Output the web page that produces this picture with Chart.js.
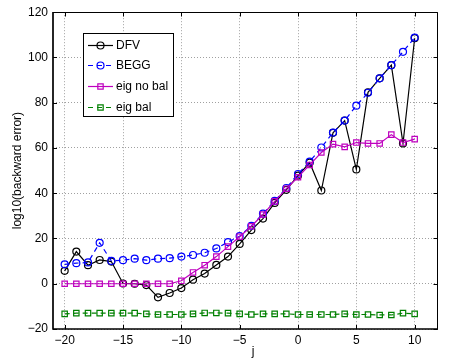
<!DOCTYPE html>
<html><head><meta charset="utf-8">
<script src="https://cdn.jsdelivr.net/npm/chart.js@4/dist/chart.umd.min.js"></script>
<style>html,body{margin:0;padding:0;background:#fff}canvas{display:block}</style>
</head><body>
<canvas id="c" width="454" height="361"></canvas>
<script>
// ---- data ----
const jValues = [-20,-19,-18,-17,-16,-15,-14,-13,-12,-11,-10,-9,-8,-7,-6,-5,-4,-3,-2,-1,0,1,2,3,4,5,6,7,8,9,10];
const dfv = [5.7,14.2,8.2,10.5,9.8,0.1,0,-0.6,-6,-4.1,-1.9,1.8,4.5,8.3,12,17.6,23.7,28.8,35.7,41.5,47.8,53.5,41.2,66.7,72.1,50.5,84.6,90.8,96.6,62,108.5];
const begg = [8.6,9.1,9.4,18.1,10.1,10.4,11.1,10.4,11.1,11.3,12,12.7,13.7,15.6,18.4,21,25.6,31,36.6,42.3,48.5,54,60.2,66.8,72.1,78.7,84.4,90.8,96.6,102.5,108.8];
const eigNoBal = [0,0,0,0,0,0,0,0,0,0,1.3,5,8.2,12,16.4,20.8,25.4,30.6,36.4,42,47.1,52.5,58,61.7,60.5,62.4,62,62,65.9,62.4,63.9];
const eigBal = [-13.3,-13,-13,-13,-13,-13,-13,-13.3,-13.6,-13.6,-13.6,-13.3,-12.9,-12.9,-13,-13.3,-13.6,-13.3,-13.3,-13.3,-13.6,-13.6,-13.6,-13.6,-13.3,-13.6,-13.6,-13.8,-13.8,-13,-13.3];
const xTicks = [-20,-15,-10,-5,0,5,10];
const yTicks = [-20,0,20,40,60,80,100,120];
const seriesNames = ['DFV','BEGG','eig no bal','eig bal'];
const xTitle = 'j';
const yTitle = 'log10(backward error)';

const FONT = '"Liberation Sans", Arial, Helvetica, sans-serif';
const fmt = v => (v < 0 ? '\u2212' + Math.abs(v) : String(v));

function pts(arr){ return jValues.map((j,i)=>({x:j, y:arr[i]})); }

const styles = [
  {color:'#000000', dash:[], point:'circle', radius:3.5, order:4},
  {color:'#0000ff', dash:[5,4], point:'circle', radius:3.5, order:3},
  {color:'#bf00bf', dash:[], point:'rect', radius:3.8, order:2},
  {color:'#008000', dash:[5,4], point:'rect', radius:3.8, order:1}
];
const seriesData = [dfv, begg, eigNoBal, eigBal];
const LW = 1.2;

const datasets = seriesData.map((arr,k)=>({
  label: seriesNames[k],
  data: pts(arr),
  borderColor: styles[k].color,
  borderWidth: LW,
  borderDash: styles[k].dash,
  pointStyle: styles[k].point,
  pointRadius: styles[k].radius,
  pointBorderColor: styles[k].color,
  pointBackgroundColor: 'rgba(0,0,0,0)',
  pointBorderWidth: LW,
  fill: false,
  tension: 0,
  order: styles[k].order
}));

const framePlugin = {
  id: 'frame',
  afterDatasetsDraw(chart){
    const {ctx, chartArea:a, scales:{x, y}} = chart;
    ctx.save();
    ctx.strokeStyle = '#000';
    ctx.setLineDash([]);
    const L = Math.round(a.left), R = Math.round(a.right)-0.5, T = Math.round(a.top)+0.5, B = Math.round(a.bottom);
    // top & right (thin)
    ctx.lineWidth = 1;
    ctx.beginPath();
    ctx.moveTo(L, T); ctx.lineTo(R, T); ctx.lineTo(R, B);
    ctx.stroke();
    // left & bottom (heavier)
    ctx.lineWidth = 1.7;
    ctx.beginPath();
    ctx.moveTo(L, T-0.5); ctx.lineTo(L, B); ctx.lineTo(R+0.5, B);
    ctx.stroke();
    const tl = 4;
    ctx.lineWidth = 1;
    ctx.beginPath();
    xTicks.forEach(v=>{
      const px = Math.round(x.getPixelForValue(v))+0.5;
      ctx.moveTo(px, B); ctx.lineTo(px, B-tl);
      ctx.moveTo(px, T); ctx.lineTo(px, T+tl);
    });
    yTicks.forEach(v=>{
      const py = Math.round(y.getPixelForValue(v))+0.5;
      ctx.moveTo(L, py); ctx.lineTo(L+tl, py);
      ctx.moveTo(R, py); ctx.lineTo(R-tl, py);
    });
    ctx.stroke();

    // x axis title
    ctx.fillStyle = '#000';
    ctx.font = '12px ' + FONT;
    ctx.textAlign = 'center';
    ctx.textBaseline = 'middle';
    ctx.fillText(xTitle, 253, 352);

    // legend
    const bx = 83.5, by = 33.5, bw = 90, bh = 83;
    ctx.fillStyle = '#fff';
    ctx.fillRect(bx, by, bw, bh);
    ctx.strokeStyle = '#000';
    ctx.lineWidth = 1;
    ctx.strokeRect(bx, by, bw, bh);
    ctx.font = '12px ' + FONT;
    ctx.textBaseline = 'middle';
    ctx.textAlign = 'left';
    chart.data.datasets.forEach((ds,k)=>{
      const yy = Math.round(by + 11 + k*20.7) + 0.5;
      ctx.strokeStyle = ds.borderColor;
      ctx.lineWidth = LW;
      ctx.setLineDash(ds.borderDash);
      ctx.beginPath(); ctx.moveTo(88, yy); ctx.lineTo(113, yy); ctx.stroke();
      ctx.setLineDash([]);
      ctx.beginPath();
      const cx = 100.5;
      if (ds.pointStyle === 'circle') {
        ctx.arc(cx, yy, ds.pointRadius, 0, Math.PI*2);
      } else {
        const s = ds.pointRadius*Math.SQRT1_2;
        ctx.rect(cx-s, yy-s, 2*s, 2*s);
      }
      ctx.stroke();
      ctx.fillStyle = '#000';
      ctx.fillText(ds.label, 116, yy);
    });
    ctx.restore();
  }
};

new Chart(document.getElementById('c'), {
  type: 'line',
  data: { datasets },
  options: {
    responsive: false,
    animation: false,
    devicePixelRatio: 1,
    layout: { padding: { top: 10, right: 16, bottom: 0, left: 0 } },
    plugins: { legend: { display: false }, tooltip: { enabled: false } },
    scales: {
      x: {
        type: 'linear', min: -21, max: 12,
        afterBuildTicks: s => { s.ticks = xTicks.map(v=>({value:v})); },
        afterFit: s => { s.height = 32; },
        ticks: { callback: v => fmt(v), color:'#000', padding: 4, maxRotation: 0, autoSkip: false, font: { family: FONT, size: 12 } },
        grid: { color: '#a0a0a0', lineWidth: 1, drawTicks: false },
        border: { display: false, dash: [1,2] },
        title: { display: false }
      },
      y: {
        type: 'linear', min: -20, max: 120,
        afterBuildTicks: s => { s.ticks = yTicks.map(v=>({value:v})); },
        afterFit: s => { s.width = 53; },
        ticks: { callback: v => fmt(v), color:'#000', padding: 5, font: { family: FONT, size: 12 } },
        grid: { color: '#a0a0a0', lineWidth: 1, drawTicks: false },
        border: { display: false, dash: [1,2] },
        title: { display: true, text: yTitle, color:'#000', font: { family: FONT, size: 12 }, padding: { top: 10, bottom: 0 } }
      }
    }
  },
  plugins: [framePlugin]
});
</script>
</body></html>
